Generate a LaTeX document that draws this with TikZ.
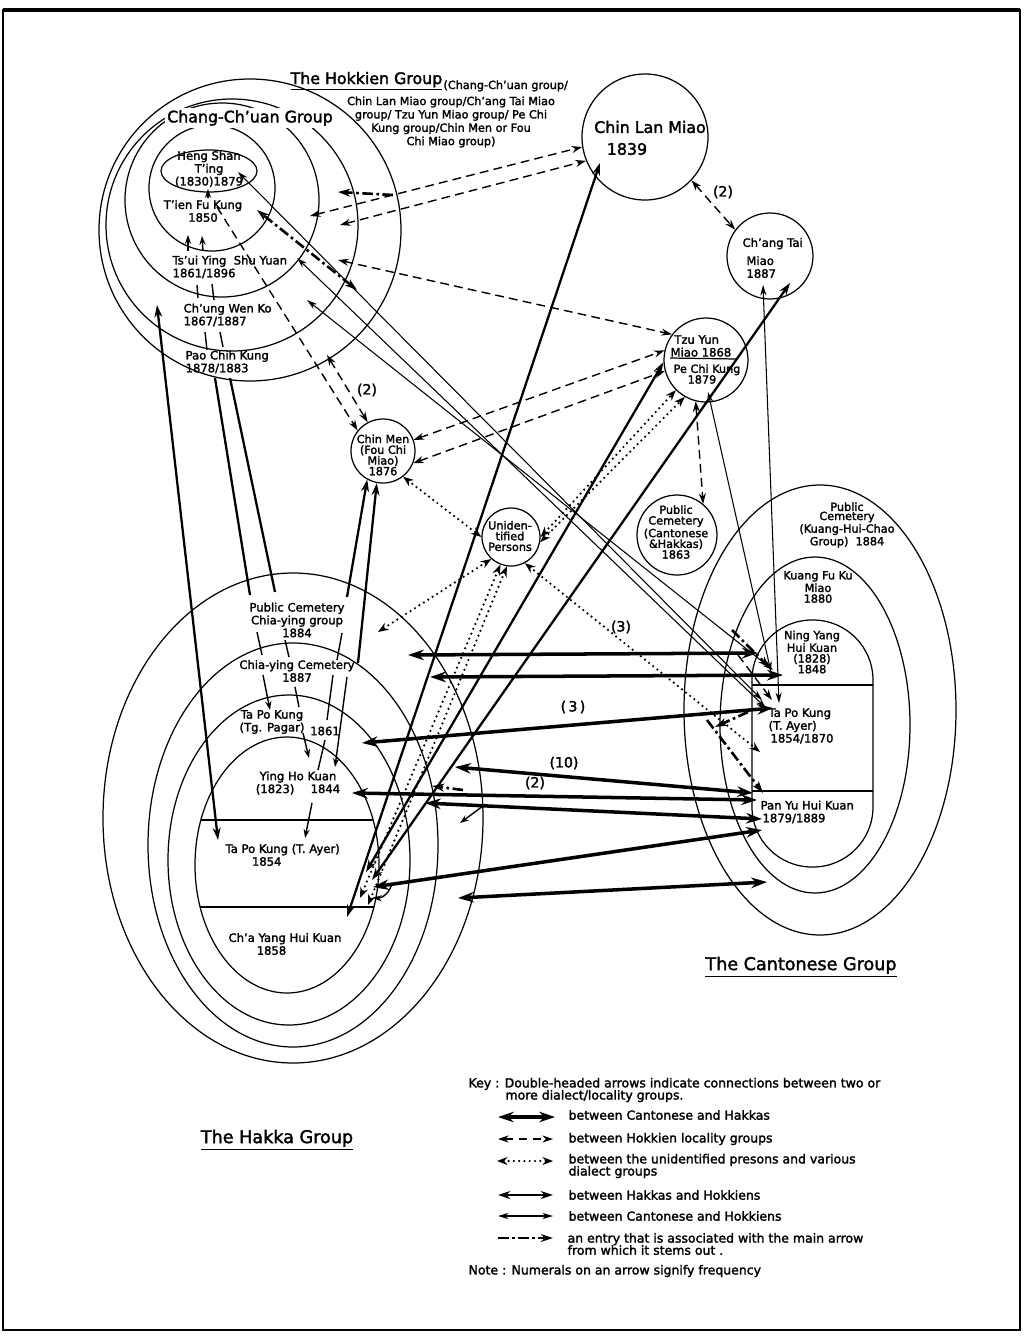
\documentclass[tikz,border=0pt]{standalone}
\usepackage{fontspec}
\setmainfont{DejaVu Sans}[FakeBold=2]
\usetikzlibrary{arrows.meta}

\newcommand\lblf{\fontsize{6.6}{7.3}\selectfont}
\newcommand\tightf{\fontsize{6.4}{6.1}\selectfont}
\newcommand\packf{\fontsize{6.4}{5.2}\selectfont}
\newcommand\subf{\fontsize{6.4}{7.6}\selectfont}
\newcommand\bigf{\fontsize{9}{11}\selectfont}
\newcommand\grpf{\fontsize{10}{12}\selectfont}
\newcommand\numf{\fontsize{8}{9}\selectfont}
\newcommand\keyf{\fontsize{7.1}{6.9}\selectfont}

\tikzset{
  lbl/.style={font=\lblf, align=center, inner sep=0pt},
  templecirc/.style={circle, draw, inner sep=0pt},
  numlbl/.style={font=\numf, inner sep=1pt},
  canhak/.style={line width=2pt, >={Stealth[length=9pt,width=6pt]}, <->},
  hokloc/.style={line width=0.8pt, dash pattern=on 5pt off 3pt, >={Stealth[length=6pt,width=4pt]}, <->},
  unid/.style={line width=1.4pt, line cap=round, dash pattern=on 0pt off 3pt, >={Stealth[length=6pt,width=4.5pt]}, <->},
  hakhok/.style={line width=1.3pt, >={Stealth[length=7pt,width=4.5pt]}, <->},
  canhok/.style={line width=0.6pt, >={Stealth[length=6pt,width=3.5pt]}, <->},
  assoc/.style={line width=1.5pt, dash pattern=on 6pt off 2pt on 1.5pt off 2pt, >={Stealth[length=7pt,width=4.5pt]}, ->},
  inlink/.style={line width=0.8pt, >={Stealth[length=5pt,width=3.5pt]}},
}

\begin{document}
\begin{tikzpicture}[x=0.2mm, y=-0.2mm, line width=0.7pt]
\useasboundingbox (0,0) rectangle (1026,1339);
\draw[line width=0.9pt] (3,10) rectangle (1020,1330);
\draw[line width=1.8pt] (3,10) -- (1020,10);

% Hokkien group circles
\draw (250,230) circle [radius=151];
\draw (232,225) circle [radius=126];
\draw (222,200) circle [radius=97];
\draw (212,188) circle [radius=63];
\draw (209,171) ellipse [x radius=48, y radius=21];
\node[lbl, font=\bigf, fill=white, inner sep=1.5pt] (ccgroup) at (250,118) {Chang-Ch'uan Group};
\node[lbl] (hengshan) at (209,169) {Heng Shan\\T'ing\\(1830)1879};
\node[lbl] (tienfu) at (203,211) {T'ien Fu Kung\\1850};
\node[lbl, align=left, anchor=west] (tsuiying) at (172,267) {Ts'ui Ying\ \ Shu Yuan\\1861/1896};
\node[lbl, align=left, anchor=west] (chungwen) at (183,315) {Ch'ung Wen Ko\\1867/1887};
\node[lbl, align=left, anchor=west] (paochih) at (185,362) {Pao Chih Kung\\1878/1883};
\node[anchor=base west, inner sep=0pt, font=\bigf] (hokkien) at (290,84) {\underline{The Hokkien Group}};
\node[anchor=base west, inner sep=0pt, font=\subf] (hokkiensub) at ([yshift=-1mm]hokkien.base east) {(Chang-Ch'uan group/};
\node[lbl, font=\subf] (hokkienlist) at (451,122) {Chin Lan Miao group/Ch'ang Tai Miao\\group/ Tzu Yun Miao group/ Pe Chi\\Kung group/Chin Men or Fou\\Chi Miao group)};

% single temples
\node[templecirc, minimum size=25.2mm] (chinlan) at (645,137) {};
\node[inner sep=0pt, font=\bigf] (chinlantxt) at (650,127) {Chin Lan Miao};
\node[inner sep=0pt, font=\bigf] (chinlanyr) at (627,149) {1839};
\node[templecirc, minimum size=17.2mm] (changtai) at (770,256) {};
\node[lbl, align=left, anchor=west] (changtaitxt) at (742,258) {Ch'ang Tai\\[3pt]\,\,Miao\\\,\,1887};
\node[templecirc, minimum size=16.8mm] (tzuyun) at (706,360) {};
\draw (670,358) -- (737,359);
\node[lbl, align=left, anchor=west] (tzuyuntxt) at (670,346) {\ Tzu Yun\\Miao 1868};
\node[lbl, font=\tightf, align=left, anchor=west] (pechi) at (673,374) {Pe Chi Kung\\\hspace*{8pt}1879};
\node[templecirc, minimum size=12.8mm] (chinmen) at (383,451) {};
\node[lbl, font=\tightf] (chinmentxt) at (383,455) {Chin Men\\(Fou Chi\\Miao)\\1876};
\node[templecirc, minimum size=11.6mm] (persons) at (511,537) {};
\node[lbl, font=\tightf] (personstxt) at (510,536) {Uniden-\\tified\\Persons};
\node[templecirc, minimum size=16mm] (pubcemch) at (677,535) {};
\node[lbl, font=\tightf] (pubcemchtxt) at (676,532) {Public\\Cemetery\\(Cantonese\\\&Hakkas)\\1863};

% Hakka group
\draw (293,818) ellipse [x radius=190, y radius=245];
\draw (293,845) ellipse [x radius=145, y radius=202];
\draw (289,860) ellipse [x radius=121, y radius=165];
\draw (287,865) ellipse [x radius=92, y radius=128];
\draw (201,820) -- (373,820);
\draw (200,907) -- (374,907);
\node[lbl] (pubcemhk) at (297,620) {Public Cemetery\\Chia-ying group\\1884};
\node[lbl] (chiaying) at (297,671) {Chia-ying Cemetery\\1887};
\node[lbl] (tapotg) at (272,722) {Ta Po Kung\\(Tg. Pagar)};
\node[lbl] (tapotgyr) at (325,731) {1861};
\node[lbl] (yingho) at (298,783) {Ying Ho Kuan\\(1823)\hspace{1.4em}1844};
\node[lbl, align=left, anchor=west] (tapoay) at (225,855) {Ta Po Kung (T. Ayer)\\\hspace*{15pt}1854};
\node[lbl, align=left, anchor=west] (chayang) at (228,944) {Ch'a Yang Hui Kuan\\\hspace*{16pt}1858};
\node[inner sep=0pt, font=\grpf] (hakka) at (277,1140) {\underline{The Hakka Group}};

% Cantonese group
\draw (820,710) ellipse [x radius=136, y radius=225];
\draw (815,725) ellipse [x radius=95, y radius=168];
\draw[rounded corners=12mm] (752,620) rectangle (873,867);
\draw (752,685) -- (873,685);
\draw (752,791) -- (873,791);
\node[lbl, font=\packf] (pubcemct) at (847,525) {Public\\Cemetery\\(Kuang-Hui-Chao\\Group)\ \ 1884};
\node[lbl, font=\tightf] (kuangfu) at (818,587) {Kuang Fu Ku\\Miao\\1880};
\node[lbl, font=\tightf] (ningyang) at (812,652) {Ning Yang\\Hui Kuan\\(1828)\\1848};
\node[lbl, align=left, anchor=west] (tapoct) at (768,726) {Ta Po Kung\\(T. Ayer)\\\,1854/1870};
\node[lbl, align=left, anchor=west] (panyu) at (760,812) {Pan Yu Hui Kuan\\\,1879/1889};
\node[inner sep=0pt, font=\grpf] (cantonese) at (801,967) {\underline{The Cantonese Group}};

% links inside the groups
\coordinate (h1a) at (208,198); \coordinate (h1b) at (208,189);
\coordinate (h2a) at (188,251); \coordinate (h2b) at (188,235);
\coordinate (h3a) at (203,251); \coordinate (h3b) at (202,236);
\coordinate (h4a) at (197,285); \coordinate (h4b) at (198,298);
\coordinate (h5a) at (212,284); \coordinate (h5b) at (214,300);
\coordinate (h6a) at (205,332); \coordinate (h6b) at (207,350);
\coordinate (h7a) at (220,332); \coordinate (h7b) at (223,347);
\draw[inlink,->] (h1a) -- (h1b);
\draw[inlink,->] (h2a) -- (h2b);
\draw[inlink,->] (h3a) -- (h3b);
\draw[inlink] (h4a) -- (h4b);
\draw[inlink] (h5a) -- (h5b);
\draw[inlink] (h6a) -- (h6b);
\draw[inlink] (h7a) -- (h7b);
\coordinate (k2a) at (257,632); \coordinate (k2b) at (262,655);
\coordinate (k3a) at (285,640); \coordinate (k3b) at (289,657);
\coordinate (k4a) at (342,633); \coordinate (k4b) at (337,660);
\coordinate (k5a) at (263,675); \coordinate (k5b) at (270,710);
\coordinate (k6a) at (295,687); \coordinate (k6b) at (299,707);
\coordinate (k7a) at (333,675); \coordinate (k7b) at (327,720);
\coordinate (k8a) at (347,677); \coordinate (k8b) at (335,767);
\coordinate (k9a) at (303,733); \coordinate (k9b) at (309,758);
\coordinate (k10a) at (325,740); \coordinate (k10b) at (318,770);
\coordinate (k11a) at (312,803); \coordinate (k11b) at (305,838);
\draw[inlink] (k2a) -- (k2b);
\draw[inlink] (k3a) -- (k3b);
\draw[inlink] (k4a) -- (k4b);
\draw[inlink,->] (k5a) -- (k5b);
\draw[inlink] (k6a) -- (k6b);
\draw[inlink] (k7a) -- (k7b);
\draw[inlink,->] (k8a) -- (k8b);
\draw[inlink,->] (k9a) -- (k9b);
\draw[inlink] (k10a) -- (k10b);
\draw[inlink,->] (k11a) -- (k11b);

% between Hokkien locality groups
\coordinate (d1a) at (310,216);
\coordinate (d2a) at (340,225);
\coordinate (d3a) at (338,260);
\coordinate (d5a) at (217,207);
\coordinate (d6a) at (327,355);
\coordinate (d10a) at (738,655); \coordinate (d10b) at (772,700);
\draw[hokloc] (d1a) -- (chinlan.189);
\draw[hokloc] (d2a) -- (chinlan.202);
\draw[hokloc] (d3a) -- (tzuyun.143);
\draw[hokloc] (chinlan.317) -- (changtai.143);
\draw[hokloc,->] (d5a) -- (chinmen.141);
\draw[hokloc] (d6a) -- (chinmen.118);
\draw[hokloc] (chinmen.20) -- (tzuyun.167);
\draw[hokloc] (chinmen.338) -- (tzuyun.195);
\draw[hokloc] (tzuyun.256) -- (pubcemch.50);
\draw[hokloc,->] (d10a) -- (d10b);

% unidentified persons
\coordinate (u4b) at (378,632);
\coordinate (u5b) at (360,898);
\coordinate (u6b) at (368,905);
\coordinate (u7b) at (760,752);
\draw[unid] (chinmen.308) -- (persons.180);
\draw[unid] (persons.0) -- (tzuyun.225);
\draw[unid] (persons.350) -- (tzuyun.240);
\draw[unid] (persons.228) -- (u4b);
\draw[unid] (persons.249) -- (u5b);
\draw[unid] (persons.262) -- (u6b);
\draw[unid] (persons.298) -- (u7b);

% Hakkas and Hokkiens
\coordinate (m1a) at (600,163); \coordinate (m1b) at (347,917);
\coordinate (m2a) at (790,283); \coordinate (m2b) at (372,880);
\coordinate (m3b) at (366,872);
\coordinate (m4a) at (157,305); \coordinate (m4b) at (218,840);
\coordinate (m5b) at (347,597);
\coordinate (m6b) at (358,663);
\coordinate (p1a) at (215,378); \coordinate (p1b) at (250,595);
\coordinate (p2a) at (230,378); \coordinate (p2b) at (275,592);
\draw[hakhok] (m1a) -- (m1b);
\draw[hakhok] (m2a) -- (m2b);
\draw[hakhok] (tzuyun.183) -- (m3b);
\draw[hakhok] (m4a) -- (m4b);
\draw[hakhok,<-] (chinmen.241) -- (m5b);
\draw[hakhok,<-] (chinmen.259) -- (m6b);
\draw[hakhok,-] (p1a) -- (p1b);
\draw[hakhok,-] (p2a) -- (p2b);

% Cantonese and Hokkiens
\coordinate (t1a) at (238,172); \coordinate (t1b) at (762,700);
\coordinate (t2a) at (297,258); \coordinate (t2b) at (766,708);
\coordinate (t3a) at (307,300); \coordinate (t3b) at (773,670);
\coordinate (t4a) at (708,392); \coordinate (t4b) at (771,672);
\coordinate (t5a) at (763,285); \coordinate (t5b) at (779,703);
\draw[canhok] (t1a) -- (t1b);
\draw[canhok] (t2a) -- (t2b);
\draw[canhok] (t3a) -- (t3b);
\draw[canhok] (t4a) -- (t4b);
\draw[canhok] (t5a) -- (t5b);

% Cantonese and Hakkas
\coordinate (c1a) at (408,655); \coordinate (c1b) at (758,653);
\coordinate (c2a) at (430,677); \coordinate (c2b) at (783,675);
\coordinate (c3a) at (362,743); \coordinate (c3b) at (773,708);
\coordinate (c4a) at (455,767); \coordinate (c4b) at (753,793);
\coordinate (c5a) at (352,793); \coordinate (c5b) at (757,800);
\coordinate (c6a) at (425,803); \coordinate (c6b) at (762,819);
\coordinate (c7a) at (373,887); \coordinate (c7b) at (762,830);
\coordinate (c8a) at (458,898); \coordinate (c8b) at (767,882);
\draw[canhak] (c1a) -- (c1b);
\draw[canhak] (c2a) -- (c2b);
\draw[canhak] (c3a) -- (c3b);
\draw[canhak] (c4a) -- (c4b);
\draw[canhak] (c5a) -- (c5b);
\draw[canhak] (c6a) -- (c6b);
\draw[canhak] (c7a) -- (c7b);
\draw[canhak] (c8a) -- (c8b);

% entries that stem from a main arrow
\coordinate (a1a) at (393,195); \coordinate (a1b) at (338,192);
\coordinate (a2a) at (357,290); \coordinate (a2b) at (257,210);
\coordinate (a3a) at (463,790); \coordinate (a3b) at (432,786);
\coordinate (a4a) at (707,720); \coordinate (a4b) at (763,793);
\coordinate (a5a) at (748,712); \coordinate (a5b) at (715,727);
\coordinate (a6a) at (732,630); \coordinate (a6b) at (770,668);
\coordinate (s1a) at (483,806); \coordinate (s1b) at (460,823);
\coordinate (s2a) at (392,883); \coordinate (s2b) at (373,898);
\draw[assoc] (a1a) -- (a1b);
\draw[assoc,<->] (a2a) -- (a2b);
\draw[assoc] (a3a) -- (a3b);
\draw[assoc] (a4a) -- (a4b);
\draw[assoc] (a5a) -- (a5b);
\draw[assoc] (a6a) -- (a6b);
\draw[inlink,->] (s1a) -- (s1b);
\draw[inlink,->] (s2a) to[bend left=40] (s2b);

% frequencies
\node[numlbl] (f1) at (723,192) {(2)};
\node[numlbl] (f2) at (367,390) {(2)};
\node[numlbl] (f3) at (621,627) {(3)};
\node[numlbl] (f4) at (573,707) {(\,3\,)};
\node[numlbl] (f5) at (564,763) {(10)};
\node[numlbl] (f6) at (535,783) {(2)};

% key
\node[anchor=west, align=left, font=\keyf, inner sep=0pt] (keyhead) at (468,1090) {Key : Double-headed arrows indicate connections between two or\\\hspace*{21pt}more dialect/locality groups.};
\coordinate (ka1) at (498,1117); \coordinate (kb1) at (555,1117);
\coordinate (ka2) at (498,1139); \coordinate (kb2) at (553,1139);
\coordinate (ka3) at (497,1161); \coordinate (kb3) at (553,1161);
\coordinate (ka4) at (498,1195); \coordinate (kb4) at (553,1195);
\coordinate (ka5) at (498,1216); \coordinate (kb5) at (553,1216);
\coordinate (ka6) at (498,1238); \coordinate (kb6) at (553,1238);
\draw[canhak] (ka1) -- (kb1);
\draw[hokloc] (ka2) -- (kb2);
\draw[unid] (ka3) -- (kb3);
\draw[hakhok] (ka4) -- (kb4);
\draw[canhok] (ka5) -- (kb5);
\draw[assoc] (ka6) -- (kb6);
\node[anchor=west, font=\keyf, inner sep=0pt] (kt1) at (568,1115) {between Cantonese and Hakkas};
\node[anchor=west, font=\keyf, inner sep=0pt] (kt2) at (568,1139) {between Hokkien locality groups};
\node[anchor=west, align=left, font=\keyf, inner sep=0pt] (kt3) at (568,1166) {between the unidentified presons and various\\dialect groups};
\node[anchor=west, font=\keyf, inner sep=0pt] (kt4) at (568,1195) {between Hakkas and Hokkiens};
\node[anchor=west, font=\keyf, inner sep=0pt] (kt5) at (568,1216) {between Cantonese and Hokkiens};
\node[anchor=west, align=left, font=\keyf, inner sep=0pt] (kt6) at (567,1244) {an entry that is associated with the main arrow\\from which it stems out .};
\node[anchor=west, font=\keyf, inner sep=0pt] (note) at (468,1271) {Note : Numerals on an arrow signify frequency};
\end{tikzpicture}
\end{document}
